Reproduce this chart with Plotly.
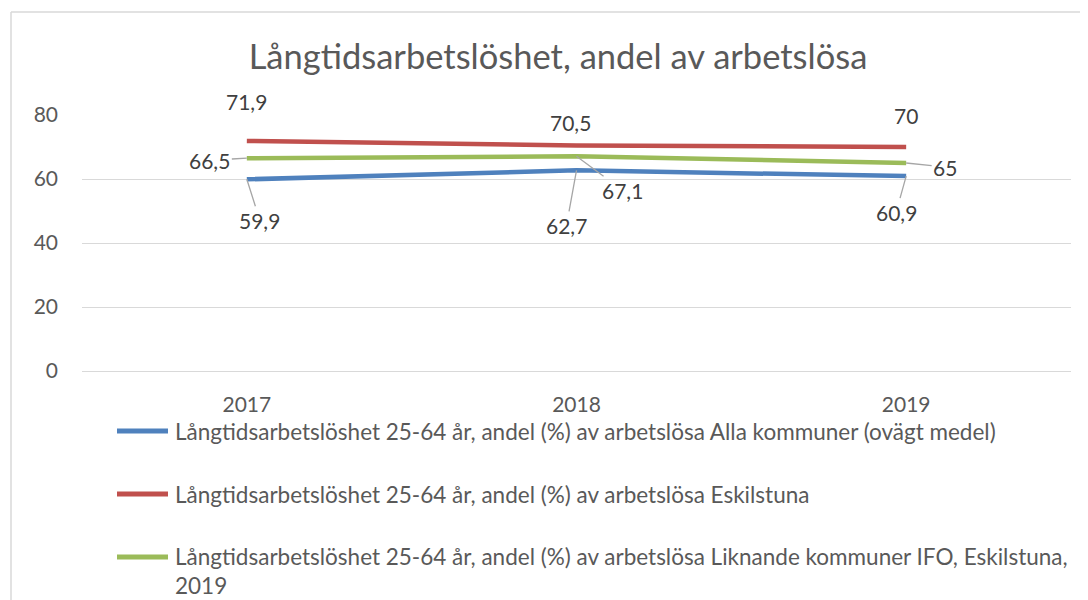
import plotly.graph_objects as go

# ---- data ----
years = ["2017", "2018", "2019"]
series_names = [
    "Långtidsarbetslöshet 25-64 år, andel (%) av arbetslösa Alla kommuner (ovägt medel)",
    "Långtidsarbetslöshet 25-64 år, andel (%) av arbetslösa Eskilstuna",
    "Långtidsarbetslöshet 25-64 år, andel (%) av arbetslösa Liknande kommuner IFO, Eskilstuna,<br>2019",
]
alla = [59.9, 62.7, 60.9]
eskilstuna = [71.9, 70.5, 70.0]
liknande = [66.5, 67.1, 65.0]
y_ticks = [0, 20, 40, 60, 80]
title_text = "Långtidsarbetslöshet, andel av arbetslösa"

# ---- styles ----
colors = ["#4F81BD", "#C0504D", "#9BBB59"]
FONT = "Lato, Open Sans, sans-serif"
TXT = "#595959"
LBL = "#404040"
OFF = 8  # page body margin

def fmt(v):
    s = ("%.1f" % v).rstrip("0").rstrip(".")
    return s.replace(".", ",")

fig = go.Figure()
all_series = [alla, eskilstuna, liknande]
for vals, col in zip(all_series, colors):
    fig.add_trace(go.Scatter(
        x=years, y=vals, mode="lines",
        line=dict(color=col, width=4.5),
        showlegend=False, hoverinfo="skip",
    ))

# label offsets (pixels) per series/point: (ax, ay, leader)
offsets = [
    [(13, 41, True), (-10, 55, True), (-10, 36, True)],   # blue
    [(0, -39, False), (-6, -23, False), (0, -32, False)],  # red
    [(-37, 2, True), (46, 34, True), (39, 4, True)],       # green
]
annotations = []
for vals, offs in zip(all_series, offsets):
    for i, (v, (ax, ay, lead)) in enumerate(zip(vals, offs)):
        if lead:
            annotations.append(dict(
                x=i, y=v, xref="x", yref="y", text=fmt(v),
                showarrow=True, arrowhead=0, arrowwidth=1.3, arrowcolor="#a6a6a6",
                ax=ax, ay=ay, standoff=0,
                font=dict(family=FONT, size=21, color=LBL),
            ))
        else:
            annotations.append(dict(
                x=i, y=v, xref="x", yref="y", text=fmt(v),
                showarrow=False, xshift=ax, yshift=-ay,
                font=dict(family=FONT, size=21, color=LBL),
            ))

# manual legend (positions in reference pixels)
plot_l, plot_r, plot_t, plot_b = 82, 1071, 115, 371
W, H = plot_r - plot_l, plot_b - plot_t
def px(xp):
    return (xp - plot_l) / W
def py(yp):
    return (plot_b - yp) / H

shapes = []
leg_y = [431, 494, 557]
text_y = [431, 494, 571]
for i, name in enumerate(series_names):
    shapes.append(dict(type="line", xref="paper", yref="paper",
                       x0=px(117), x1=px(168), y0=py(leg_y[i]), y1=py(leg_y[i]),
                       line=dict(color=colors[i], width=5)))
    annotations.append(dict(
        x=px(173), y=py(text_y[i]), xref="paper", yref="paper",
        xanchor="left", yanchor="middle", align="left", text=name,
        showarrow=False, font=dict(family=FONT, size=22.5, color=TXT),
    ))

# chart border
shapes.append(dict(type="line", xref="paper", yref="paper",
                   x0=px(11), x1=px(1100), y0=py(12), y1=py(12),
                   line=dict(color="#d9d9d9", width=1.5)))
shapes.append(dict(type="line", xref="paper", yref="paper",
                   x0=px(11), x1=px(11), y0=py(12), y1=py(610),
                   line=dict(color="#d9d9d9", width=1.5)))

FW, FH = 1088 - OFF, 600 - OFF
fig.update_layout(
    width=FW, height=FH,
    margin=dict(l=plot_l - OFF, r=1088 - plot_r, t=plot_t - OFF, b=600 - plot_b),
    paper_bgcolor="white", plot_bgcolor="white",
    title=dict(text=title_text, x=(558 - OFF) / FW, xanchor="center", y=1 - (57 - OFF) / FH,
               yanchor="middle", xref="paper" if False else "container",
               font=dict(family=FONT, size=34.5, color=TXT)),
    xaxis=dict(type="category", range=[-0.5, 2.5], showgrid=False, showline=False,
               zeroline=False, ticks="", tickfont=dict(family=FONT, size=21, color=TXT),
               ticklabelstandoff=19, fixedrange=True),
    yaxis=dict(range=[0, 80], tickvals=y_ticks, showgrid=True, gridcolor="#d9d9d9",
               gridwidth=1.3, zeroline=True, zerolinecolor="#d9d9d9", zerolinewidth=1.3,
               showline=False, ticks="", tickfont=dict(family=FONT, size=21, color=TXT),
               ticklabelstandoff=23, fixedrange=True),
    shapes=shapes, annotations=annotations,
)

fig.write_html("out.html")
